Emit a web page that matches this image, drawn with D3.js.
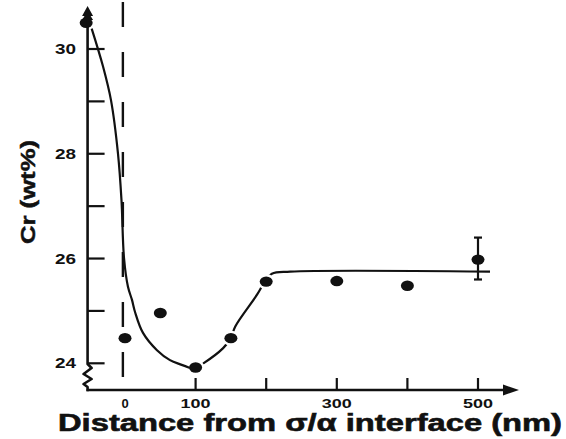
<!DOCTYPE html>
<html>
<head>
<meta charset="utf-8">
<script src="https://cdn.jsdelivr.net/npm/d3@7"></script>
<style>
  html, body { margin: 0; padding: 0; background: #fff; }
  svg { display: block; }
  text { font-family: "Liberation Sans", Arial, Helvetica, sans-serif; font-weight: 700; fill: #111; }
</style>
</head>
<body>
<svg id="chart" width="566" height="439"></svg>
<script>
// Measured Cr concentration (wt%) versus distance from the sigma/alpha interface (nm)
const pointDistance = [-55, 0, 50, 100, 150, 200, 300, 400, 500];
const pointCr       = [30.5, 24.48, 24.96, 23.92, 24.48, 25.56, 25.57, 25.48, 25.98];

// Error bar on the 500 nm measurement
const errDistance = [500];
const errLow      = [25.6];
const errHigh     = [26.4];

// Solid fitted curve: depletion profile on the sigma side
const fitADistance = [-47.2, -31.2, -19.8, -9.9, -5.0, -1.4, 4.2, 9.9, 14.2, 25.5, 45.3, 63.7, 80.3, 92];
const fitACr       = [30.39, 29.67, 29.02, 28.0, 27.12, 26.01, 25.46, 25.21, 24.98, 24.58, 24.25, 24.06, 23.97, 23.91];

// Recovery curve and plateau on the alpha side
const fitBDistance = [100, 111, 139, 150, 156, 187, 198, 208, 234, 517];
const fitBCr       = [23.92, 24.0, 24.29, 24.48, 24.70, 25.31, 25.56, 25.71, 25.75, 25.75];

// Axis ticks and labels
const xTicks      = [100, 200, 300, 400, 500];
const xTickLabels = [0, 100, 300, 500];
const yTicks      = [24, 25, 26, 27, 28, 29, 30];
const yTickLabels = [24, 26, 28, 30];

const xLabel = "Distance from \u03C3/\u03B1 interface (nm)";
const yLabel = "Cr (wt%)";

const svg = d3.select("#chart");
const x = d3.scaleLinear().domain([0, 500]).range([125, 478]);
const y = d3.scaleLinear().domain([24, 30]).range([363.3, 49]);

const axisX = x(-53);     // position of the vertical axis
const axisY = 390;        // position of the horizontal axis
const axisTop = 6;
const ink = "#111";

// dashed line marking the interface
svg.append("line")
  .attr("x1", x(-3)).attr("x2", x(-3))
  .attr("y1", 2).attr("y2", axisY)
  .attr("stroke", ink).attr("stroke-width", 2.4)
  .attr("stroke-dasharray", "25,25");

const smoothLine = d3.line().x(d => x(d[0])).y(d => y(d[1])).curve(d3.curveCatmullRom.alpha(0.5));

// recovery curve
svg.append("path")
  .datum(d3.zip(fitBDistance, fitBCr))
  .attr("d", smoothLine)
  .attr("fill", "none").attr("stroke", ink).attr("stroke-width", 2.2);

// data points, each on a white rim that breaks the curve where it meets a point
const pts = d3.zip(pointDistance, pointCr);
svg.append("g").selectAll("ellipse")
  .data(pts).join("ellipse")
  .attr("cx", d => x(d[0])).attr("cy", d => y(d[1]))
  .attr("rx", 9).attr("ry", 7.5)
  .attr("fill", "#fff");
svg.append("g").selectAll("ellipse")
  .data(pts).join("ellipse")
  .attr("cx", d => x(d[0])).attr("cy", d => y(d[1]))
  .attr("rx", 6.5).attr("ry", 5.2)
  .attr("fill", ink);

// depletion curve
svg.append("path")
  .datum(d3.zip(fitADistance, fitACr))
  .attr("d", smoothLine)
  .attr("fill", "none").attr("stroke", ink).attr("stroke-width", 2.2);

// error bars
const eb = svg.append("g").attr("stroke", ink).attr("stroke-width", 2.2);
errDistance.forEach((d, i) => {
  eb.append("line").attr("x1", x(d)).attr("x2", x(d)).attr("y1", y(errLow[i])).attr("y2", y(errHigh[i]));
  eb.append("line").attr("x1", x(d) - 4).attr("x2", x(d) + 4).attr("y1", y(errLow[i])).attr("y2", y(errLow[i]));
  eb.append("line").attr("x1", x(d) - 4).attr("x2", x(d) + 4).attr("y1", y(errHigh[i])).attr("y2", y(errHigh[i]));
});

// vertical axis with a break near the bottom
const breakPath = d3.path();
breakPath.moveTo(axisX, axisTop + 10);
breakPath.lineTo(axisX, 364);
breakPath.lineTo(axisX + 4, 368);
breakPath.lineTo(axisX - 4, 374);
breakPath.lineTo(axisX + 4, 379);
breakPath.lineTo(axisX - 4, 384);
breakPath.lineTo(axisX, 387);
breakPath.lineTo(axisX, axisY + 1.2);
svg.append("path").attr("d", breakPath.toString())
  .attr("fill", "none").attr("stroke", ink).attr("stroke-width", 2.6).attr("stroke-linejoin", "round");

// arrow heads on the vertical axis
svg.append("path")
  .attr("d", `M${axisX},${axisTop} L${axisX + 5.5},${axisTop + 10} L${axisX - 5.5},${axisTop + 10} Z` +
             `M${axisX},${axisTop + 5} L${axisX + 5.5},${axisTop + 14} L${axisX - 5.5},${axisTop + 14} Z`)
  .attr("fill", ink);

// horizontal axis with arrow
svg.append("line")
  .attr("x1", axisX - 1).attr("x2", 506)
  .attr("y1", axisY).attr("y2", axisY)
  .attr("stroke", ink).attr("stroke-width", 2.6);
svg.append("path")
  .attr("d", `M519,${axisY} L503,${axisY - 5.5} L503,${axisY + 5.5} Z`)
  .attr("fill", ink);

// y ticks point into the plot
svg.append("g").selectAll("line")
  .data(yTicks).join("line")
  .attr("x1", axisX).attr("x2", axisX + 17)
  .attr("y1", d => y(d)).attr("y2", d => y(d))
  .attr("stroke", ink).attr("stroke-width", 2.2);

svg.append("g").selectAll("text")
  .data(yTickLabels).join("text")
  .attr("x", 76).attr("y", d => y(d) + 5)
  .attr("text-anchor", "end")
  .attr("font-size", 14)
  .attr("textLength", 21).attr("lengthAdjust", "spacingAndGlyphs")
  .text(d => d);

// x ticks point up from the axis
svg.append("g").selectAll("line")
  .data(xTicks).join("line")
  .attr("x1", d => x(d)).attr("x2", d => x(d))
  .attr("y1", axisY - 12).attr("y2", axisY)
  .attr("stroke", ink).attr("stroke-width", 2.2);

svg.append("g").selectAll("text")
  .data(xTickLabels).join("text")
  .attr("x", d => x(d)).attr("y", 408)
  .attr("text-anchor", "middle")
  .attr("font-size", 13)
  .each(function(d) {
    const s = String(d);
    if (s.length > 1) d3.select(this).attr("textLength", s.length * 10).attr("lengthAdjust", "spacingAndGlyphs");
  })
  .text(d => d);

// axis titles
svg.append("text")
  .attr("x", 58).attr("y", 431)
  .attr("font-size", 23)
  .attr("textLength", 504).attr("lengthAdjust", "spacingAndGlyphs")
  .attr("stroke", ink).attr("stroke-width", 0.6)
  .text(xLabel);

svg.append("text")
  .attr("transform", "translate(35,192) rotate(-90)")
  .attr("text-anchor", "middle")
  .attr("font-size", 21)
  .attr("textLength", 104).attr("lengthAdjust", "spacingAndGlyphs")
  .attr("stroke", ink).attr("stroke-width", 0.5)
  .text(yLabel);
</script>
</body>
</html>
